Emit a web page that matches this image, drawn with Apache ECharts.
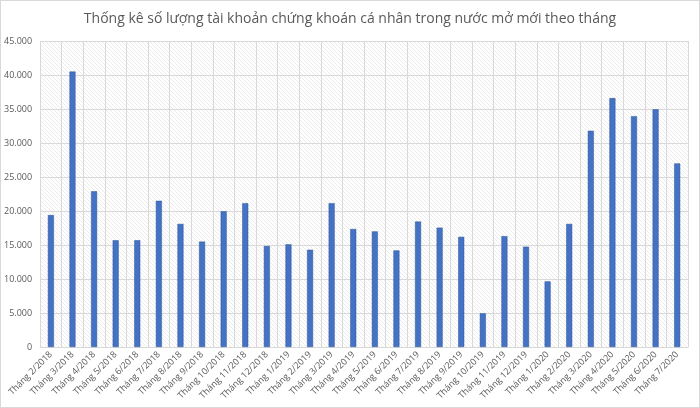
<!DOCTYPE html>
<html lang="vi" style="height: 100%">
<head>
  <meta charset="UTF-8">
  <title>Thống kê số lượng tài khoản chứng khoán</title>
  <script src="https://cdn.jsdelivr.net/npm/echarts@6/dist/echarts.min.js"></script>
</head>
<body style="height: 100%; margin: 0; background: #fff;">
  <div id="main" style="width: 698px; height: 406px; border: 1px solid #d9d9d9;"></div>

  <script>
  // tháng
  const months = [
    'Tháng 2/2018', 'Tháng 3/2018', 'Tháng 4/2018', 'Tháng 5/2018', 'Tháng 6/2018',
    'Tháng 7/2018', 'Tháng 8/2018', 'Tháng 9/2018', 'Tháng 10/2018', 'Tháng 11/2018',
    'Tháng 12/2018', 'Tháng 1/2019', 'Tháng 2/2019', 'Tháng 3/2019', 'Tháng 4/2019',
    'Tháng 5/2019', 'Tháng 6/2019', 'Tháng 7/2019', 'Tháng 8/2019', 'Tháng 9/2019',
    'Tháng 10/2019', 'Tháng 11/2019', 'Tháng 12/2019', 'Tháng 1/2020', 'Tháng 2/2020',
    'Tháng 3/2020', 'Tháng 4/2020', 'Tháng 5/2020', 'Tháng 6/2020', 'Tháng 7/2020'
  ];
  // số tài khoản mở mới
  const newAccounts = [
    19400, 40500, 22900, 15700, 15700,
    21500, 18100, 15500, 19950, 21150,
    14850, 15100, 14300, 21150, 17350,
    17000, 14200, 18450, 17550, 16200,
    4950, 16300, 14750, 9650, 18100,
    31800, 36600, 33950, 34950, 27000
  ];

  // nền sọc chéo của vùng vẽ
  const hatch = document.createElement('canvas');
  hatch.width = 4;
  hatch.height = 4;
  const hctx = hatch.getContext('2d');
  hctx.fillStyle = '#ffffff';
  hctx.fillRect(0, 0, 4, 4);
  hctx.strokeStyle = '#e2e2e2';
  hctx.lineWidth = 0.7;
  hctx.beginPath();
  hctx.moveTo(-1, -1); hctx.lineTo(5, 5);
  hctx.moveTo(-1, 3); hctx.lineTo(1, 5);
  hctx.moveTo(3, -1); hctx.lineTo(5, 1);
  hctx.stroke();

  const chart = echarts.init(document.getElementById('main'));

  const fmt = v => v.toLocaleString('de-DE');

  chart.setOption({
    animation: false,
    textStyle: { fontFamily: 'Open Sans' },
    title: {
      text: 'Thống kê số lượng tài khoản chứng khoán cá nhân trong nước mở mới theo tháng',
      left: 'center',
      top: 6,
      textStyle: { color: '#595959', fontSize: 14, fontWeight: 'normal', fontFamily: 'Open Sans' }
    },
    grid: {
      left: 39, right: 11, top: 40, bottom: 60,
      show: true,
      backgroundColor: { image: hatch, repeat: 'repeat' },
      borderWidth: 0
    },
    xAxis: {
      type: 'category',
      data: months,
      boundaryGap: true,
      axisLine: { lineStyle: { color: '#d9d9d9' } },
      axisTick: { show: false },
      splitLine: { show: true, lineStyle: { color: '#d9d9d9' } },
      axisLabel: {
        interval: 0,
        rotate: 45,
        color: '#595959',
        fontSize: 9,
        margin: 6
      }
    },
    yAxis: {
      type: 'value',
      min: 0,
      max: 45000,
      interval: 5000,
      axisLine: { show: false },
      axisTick: { show: false },
      splitLine: { lineStyle: { color: '#d9d9d9' } },
      axisLabel: { color: '#595959', fontSize: 9, margin: 8, formatter: fmt }
    },
    series: [{
      type: 'bar',
      data: newAccounts,
      barWidth: 6,
      itemStyle: { color: '#4472c4', borderColor: '#2f5597', borderWidth: 0.5 }
    }]
  });
  </script>
</body>
</html>
